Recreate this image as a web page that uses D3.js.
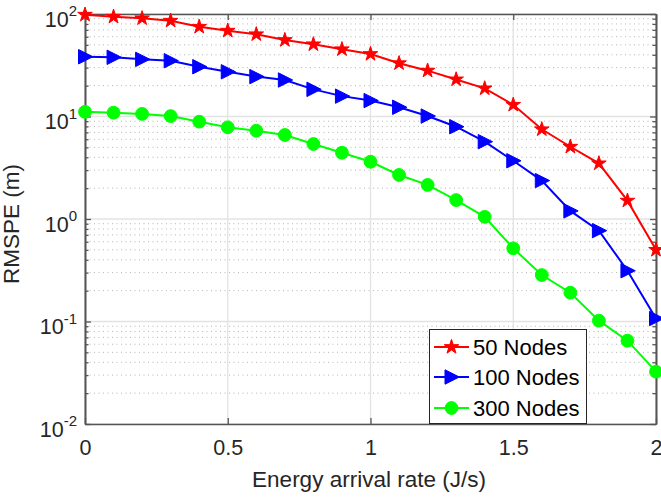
<!DOCTYPE html>
<html>
<head>
<meta charset="utf-8">
<script src="https://cdn.jsdelivr.net/npm/d3@7"></script>
<style>
  html, body { margin: 0; padding: 0; background: #fff; }
  svg { display: block; font-family: "Liberation Sans", Arial, Helvetica, sans-serif; }
</style>
</head>
<body>
<svg id="chart" width="661" height="497"></svg>
<script>
// Energy arrival rate (J/s)
const rates = [0, 0.1, 0.2, 0.3, 0.4, 0.5, 0.6, 0.7, 0.8, 0.9, 1.0,
               1.1, 1.2, 1.3, 1.4, 1.5, 1.6, 1.7, 1.8, 1.9, 2.0];

// RMSPE (m) for each network size
const nodes50  = [98.4, 94, 90.8, 86, 75, 68.7, 63.4, 55.7, 50.6, 45.3, 40.7,
                  33.1, 28, 23, 18.8, 13, 7.5, 5.07, 3.49, 1.51, 0.5];
const nodes100 = [38.3, 37.8, 36.1, 35, 30.6, 27.3, 24.5, 22.7, 18.4, 15.8, 14.3,
                  12.3, 10.1, 7.95, 5.68, 3.7, 2.37, 1.2, 0.77, 0.313, 0.107];
const nodes300 = [11.1, 10.9, 10.6, 10.1, 8.9, 7.85, 7.26, 6.6, 5.39, 4.43, 3.62,
                  2.69, 2.15, 1.53, 1.05, 0.518, 0.284, 0.191, 0.102, 0.065, 0.0324];

const seriesNames = ["50 Nodes", "100 Nodes", "300 Nodes"];
const xTicks = [0, 0.5, 1, 1.5, 2];
const xTickLabels = ["0", "0.5", "1", "1.5", "2"];
const yDecades = [1e-2, 1e-1, 1e0, 1e1, 1e2];
const yExponents = ["-2", "-1", "0", "1", "2"];

const svg = d3.select("#chart");
const plotLeft = 85, plotRight = 656, plotTop = 14, plotBottom = 424;

const x = d3.scaleLinear().domain([0, 2]).range([plotLeft, plotRight]);
const y = d3.scaleLog().domain([1e-2, 1e2]).range([plotBottom, plotTop]);

// minor decade values 2..9 x 10^k
const yMinor = [];
for (let k = -2; k < 2; k++) for (let m = 2; m <= 9; m++) yMinor.push(m * Math.pow(10, k));

const axisColor = "#262626";

// grid
const grid = svg.append("g");
grid.selectAll(".minor").data(yMinor).join("line")
  .attr("x1", plotLeft).attr("x2", plotRight)
  .attr("y1", d => y(d)).attr("y2", d => y(d))
  .attr("stroke", "#b5b5b5").attr("stroke-width", 1)
  .attr("stroke-dasharray", "1,3.5");
grid.selectAll(".major").data(yDecades).join("line")
  .attr("x1", plotLeft).attr("x2", plotRight)
  .attr("y1", d => y(d)).attr("y2", d => y(d))
  .attr("stroke", "#e3e3e3").attr("stroke-width", 1.3);
grid.selectAll(".vmajor").data(xTicks).join("line")
  .attr("x1", d => x(d)).attr("x2", d => x(d))
  .attr("y1", plotTop).attr("y2", plotBottom)
  .attr("stroke", "#e3e3e3").attr("stroke-width", 1.3);

// axes (ticks point inward, box on all four sides)
function styleAxis(g) {
  g.select(".domain").attr("stroke", "#555").attr("stroke-width", 1.6);
  g.selectAll(".tick line").attr("stroke", "#555").attr("stroke-width", 1.3);
}

const xBottom = svg.append("g").attr("transform", `translate(0,${plotBottom})`)
  .call(d3.axisBottom(x).tickValues(xTicks).tickFormat((d, i) => xTickLabels[i])
    .tickSizeInner(-6).tickSizeOuter(0).tickPadding(16));
xBottom.call(styleAxis);
xBottom.selectAll("text").attr("font-size", 21.5).attr("fill", axisColor)
  .attr("font-family", "Liberation Sans, Arial, sans-serif");

const xTopAxis = svg.append("g").attr("transform", `translate(0,${plotTop})`)
  .call(d3.axisTop(x).tickValues(xTicks).tickFormat("").tickSizeInner(-6).tickSizeOuter(0));
xTopAxis.call(styleAxis);

const yLeft = svg.append("g").attr("transform", `translate(${plotLeft},0)`)
  .call(d3.axisLeft(y).tickValues(yDecades).tickFormat("")
    .tickSizeInner(-6).tickSizeOuter(0).tickPadding(8));
yLeft.call(styleAxis);
yLeft.selectAll(".tick").each(function(d) {
  const t = d3.select(this).append("text")
    .attr("x", -8).attr("y", 12).attr("text-anchor", "end")
    .attr("fill", axisColor).attr("font-size", 21.5)
    .attr("font-family", "Liberation Sans, Arial, sans-serif");
  t.append("tspan").text("10");
  t.append("tspan").attr("dy", -10.5).attr("font-size", 15).text(yExponents[yDecades.indexOf(d)]);
});
const yLeftMinor = svg.append("g").attr("transform", `translate(${plotLeft},0)`)
  .call(d3.axisLeft(y).tickValues(yMinor).tickFormat("").tickSizeInner(-3.5).tickSizeOuter(0));
yLeftMinor.call(styleAxis);

const yRight = svg.append("g").attr("transform", `translate(${plotRight},0)`)
  .call(d3.axisRight(y).tickValues(yDecades).tickFormat("").tickSizeInner(-6).tickSizeOuter(0));
yRight.call(styleAxis);
const yRightMinor = svg.append("g").attr("transform", `translate(${plotRight},0)`)
  .call(d3.axisRight(y).tickValues(yMinor).tickFormat("").tickSizeInner(-3.5).tickSizeOuter(0));
yRightMinor.call(styleAxis);

// axis titles
svg.append("text")
  .attr("x", 369).attr("y", 487)
  .attr("text-anchor", "middle").attr("font-size", 22.5).attr("fill", axisColor)
  .text("Energy arrival rate (J/s)");
svg.append("text")
  .attr("transform", `translate(19,${(plotTop + plotBottom) / 2 + 5}) rotate(-90)`)
  .attr("text-anchor", "middle").attr("font-size", 22.5).attr("fill", axisColor)
  .text("RMSPE (m)");

// markers
const starPath = d3.symbol().type(d3.symbolStar).size(66)();
const triPath = "M-6.5,-7.2L-6.5,7.2L7.8,0Z";
const circPath = d3.symbol().type(d3.symbolCircle).size(Math.PI * 6.4 * 6.4)();

const series = [
  { name: seriesNames[0], values: nodes50,  color: "#ff0000", marker: starPath },
  { name: seriesNames[1], values: nodes100, color: "#0000ff", marker: triPath },
  { name: seriesNames[2], values: nodes300, color: "#00ff00", marker: circPath }
];

const line = d3.line().x(d => x(d[0])).y(d => y(d[1]));

series.forEach(s => {
  const pts = rates.map((r, i) => [r, s.values[i]]);
  const g = svg.append("g");
  g.append("path").datum(pts).attr("d", line)
    .attr("fill", "none").attr("stroke", s.color).attr("stroke-width", 2);
  g.selectAll("path.m").data(pts).join("path").attr("class", "m")
    .attr("d", s.marker)
    .attr("transform", d => `translate(${x(d[0])},${y(d[1])})`)
    .attr("fill", s.color).attr("stroke", s.color).attr("stroke-width", 1);
});

// legend
const lg = svg.append("g");
lg.append("rect").attr("x", 429.5).attr("y", 329.5).attr("width", 157).attr("height", 94)
  .attr("fill", "#fff").attr("stroke", "#262626").attr("stroke-width", 1);
const rowY = [347, 377, 408];
series.forEach((s, i) => {
  const ry = rowY[i];
  lg.append("line").attr("x1", 434).attr("x2", 469).attr("y1", ry).attr("y2", ry)
    .attr("stroke", s.color).attr("stroke-width", 2);
  lg.append("path").attr("d", s.marker).attr("transform", `translate(451.5,${ry})`)
    .attr("fill", s.color).attr("stroke", s.color).attr("stroke-width", 1);
  lg.append("text").attr("x", 473).attr("y", ry + 8)
    .attr("font-size", 22).attr("fill", "#000").text(s.name);
});
</script>
</body>
</html>
